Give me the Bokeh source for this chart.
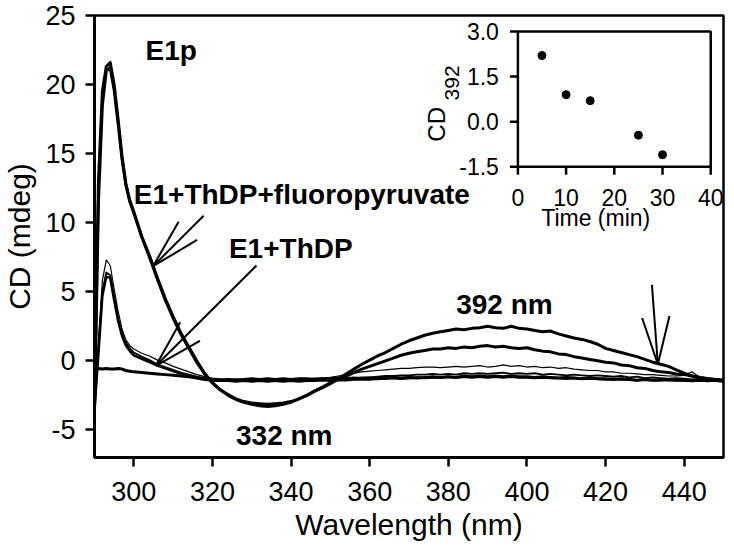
import math
from bokeh.plotting import figure
from bokeh.models import Range1d, FixedTicker
from bokeh.core.properties import value
from bokeh.embed import file_html
from bokeh.resources import INLINE

# ---------------- data ----------------
wavelength = [290, 291, 292, 293, 294, 295, 296, 297, 298, 299,
              300, 302, 304, 306, 308, 310, 312, 314, 316, 318,
              320, 322, 324, 326, 328, 330, 332, 334, 336, 338,
              340, 342, 344, 346, 348, 350, 352, 354, 356, 358,
              360, 362, 364, 366, 368, 370, 372, 374, 376, 378,
              380, 382, 384, 386, 388, 390, 392, 394, 396, 398,
              400, 402, 404, 406, 408, 410, 412, 414, 416, 418,
              420, 422, 424, 426, 428, 430, 432, 434, 436, 438,
              440, 442, 444, 446, 448, 450]

fp_early = [-3.5, 13.0, 19.5, 21.3, 21.6, 20.0, 17.5, 14.8, 12.8, 11.6,
            10.8, 9.0, 7.6, 6.0, 4.5, 3.2, 2.0, 1.0, 0.0, -0.9,
            -1.6, -2.1, -2.5, -2.8, -3.0, -3.15, -3.25, -3.3, -3.25, -3.15,
            -3.0, -2.75, -2.5, -2.2, -1.95, -1.65, -1.3, -0.95, -0.6, -0.25,
            0.05, 0.35, 0.6, 0.9, 1.2, 1.45, 1.65, 1.85, 2.0, 2.1,
            2.2, 2.3, 2.25, 2.35, 2.4, 2.5, 2.4, 2.35, 2.5, 2.35,
            2.3, 2.2, 2.1, 2.15, 1.95, 1.8, 1.65, 1.55, 1.4, 1.2,
            0.9, 0.75, 0.6, 0.45, 0.3, 0.1, -0.1, -0.25, -0.4, -0.65,
            -0.9, -1.1, -1.2, -1.3, -1.35, -1.4]

fp_late = [-3.5, 11.5, 18.5, 21.0, 21.2, 19.6, 17.2, 14.6, 12.7, 11.5,
           10.7, 9.0, 7.5, 5.9, 4.4, 3.1, 1.9, 0.9, -0.1, -0.95,
           -1.6, -2.1, -2.45, -2.75, -2.95, -3.05, -3.1, -3.15, -3.1, -3.05,
           -2.95, -2.75, -2.5, -2.2, -1.9, -1.6, -1.35, -1.1, -0.85, -0.6,
           -0.4, -0.2, 0.0, 0.2, 0.4, 0.55, 0.65, 0.75, 0.85, 0.85,
           0.95, 0.9, 1.0, 0.95, 1.05, 1.1, 1.0, 1.05, 0.95, 0.9,
           0.95, 0.8, 0.7, 0.65, 0.5, 0.45, 0.3, 0.2, 0.1, 0.0,
           -0.1, -0.15, -0.3, -0.35, -0.5, -0.55, -0.7, -0.8, -0.85, -0.95,
           -1.0, -1.1, -1.2, -1.3, -1.35, -1.4]

thdp_a = [-3.5, 1.5, 5.8, 7.3, 6.9, 5.2, 3.6, 2.3, 1.5, 1.1,
          0.85, 0.55, 0.35, 0.05, -0.15, -0.4, -0.6, -0.8, -1.0, -1.15,
          -1.25, -1.3, -1.35, -1.3, -1.35, -1.4, -1.35, -1.3, -1.35, -1.3,
          -1.35, -1.3, -1.3, -1.25, -1.25, -1.2, -1.1, -1.0, -0.9, -0.8,
          -0.75, -0.7, -0.65, -0.6, -0.55, -0.55, -0.5, -0.45, -0.45, -0.5,
          -0.45, -0.4, -0.45, -0.4, -0.35, -0.45, -0.4, -0.3, -0.4, -0.35,
          -0.45, -0.4, -0.5, -0.45, -0.55, -0.5, -0.6, -0.65, -0.7, -0.7,
          -0.8, -0.8, -0.9, -0.9, -0.95, -1.0, -1.0, -1.05, -1.1, -1.1,
          -1.05, -0.8, -1.2, -1.35, -1.4, -1.45]

thdp_b = [-3.5, 0.8, 5.0, 6.4, 6.2, 4.6, 3.1, 2.0, 1.3, 0.9,
          0.6, 0.3, 0.05, -0.25, -0.45, -0.65, -0.85, -1.0, -1.15, -1.25,
          -1.35, -1.4, -1.4, -1.45, -1.4, -1.45, -1.4, -1.4, -1.45, -1.4,
          -1.45, -1.4, -1.4, -1.35, -1.4, -1.3, -1.3, -1.25, -1.25, -1.2,
          -1.2, -1.15, -1.1, -1.1, -1.05, -1.05, -1.0, -1.0, -0.95, -1.0,
          -0.95, -1.0, -0.9, -0.95, -0.9, -0.95, -0.9, -0.85, -0.95, -0.9,
          -0.95, -0.9, -1.0, -0.95, -1.0, -1.05, -1.0, -1.05, -1.1, -1.05,
          -1.1, -1.15, -1.1, -1.2, -1.15, -1.25, -1.2, -1.25, -1.3, -1.25,
          -1.3, -1.35, -1.3, -1.4, -1.4, -1.45]

thdp_c = [-3.5, 0.5, 4.7, 6.1, 6.0, 4.4, 2.9, 1.8, 1.1, 0.7,
          0.4, 0.15, -0.1, -0.35, -0.55, -0.75, -0.95, -1.1, -1.2, -1.3,
          -1.4, -1.45, -1.45, -1.5, -1.45, -1.5, -1.45, -1.5, -1.45, -1.5,
          -1.45, -1.5, -1.45, -1.45, -1.4, -1.45, -1.4, -1.4, -1.35, -1.35,
          -1.35, -1.3, -1.3, -1.25, -1.3, -1.25, -1.2, -1.25, -1.2, -1.2,
          -1.15, -1.2, -1.15, -1.2, -1.15, -1.2, -1.15, -1.2, -1.15, -1.2,
          -1.2, -1.25, -1.2, -1.25, -1.25, -1.3, -1.25, -1.3, -1.3, -1.3,
          -1.35, -1.3, -1.35, -1.35, -1.4, -1.35, -1.4, -1.35, -1.4, -1.4,
          -1.4, -1.45, -1.4, -1.45, -1.45, -1.5]

e1_only = [-0.6, -0.55, -0.6, -0.55, -0.6, -0.6, -0.55, -0.6, -0.7, -0.75,
           -0.8, -0.85, -0.9, -0.95, -1.0, -1.05, -1.1, -1.15, -1.25, -1.35,
           -1.4, -1.4, -1.35, -1.4, -1.35, -1.3, -1.35, -1.3, -1.35, -1.3,
           -1.35, -1.3, -1.3, -1.35, -1.3, -1.3, -1.25, -1.3, -1.25, -1.3,
           -1.25, -1.3, -1.25, -1.2, -1.25, -1.2, -1.25, -1.2, -1.15, -1.2,
           -1.15, -1.2, -1.1, -1.15, -1.1, -1.15, -1.1, -1.15, -1.1, -1.15,
           -1.15, -1.2, -1.15, -1.2, -1.25, -1.2, -1.25, -1.3, -1.25, -1.3,
           -1.3, -1.35, -1.3, -1.35, -1.4, -1.35, -1.4, -1.4, -1.35, -1.4,
           -1.4, -1.45, -1.4, -1.45, -1.4, -1.45]

x_ticks = [300, 320, 340, 360, 380, 400, 420, 440]
y_ticks = [-5, 0, 5, 10, 15, 20, 25]

# inset: CD at 392 nm vs time
time_min = [5, 10, 15, 25, 30]
cd392 = [2.2, 0.9, 0.7, -0.45, -1.1]
inset_xlim = [0, 40]
inset_ylim = [-1.5, 3.0]
inset_xticks = [0, 10, 20, 30, 40]
inset_xlabels = ["0", "10", "20", "30", "40"]
inset_yticks = [-1.5, 0.0, 1.5, 3.0]
inset_ylabels = ["-1.5", "0.0", "1.5", "3.0"]

# annotation labels
label_text = ["E1p", "E1+ThDP+fluoropyruvate", "E1+ThDP", "392 nm", "332 nm"]
label_x = [303.0, 300.0, 324.2, 382.0, 326.0]
label_y = [22.5, 12.05, 8.1, 4.05, -5.4]

# arrows: tip, tail, two head ends
arrow_tip_x = [304.9, 305.6, 433.3]
arrow_tip_y = [6.85, -0.36, -0.25]
arrow_tail_x = [317.75, 331.2, 431.8]
arrow_tail_y = [10.5, 6.9, 5.5]
arrow_h1_x = [311.4, 311.8, 429.3]
arrow_h1_y = [10.07, 2.8, 3.1]
arrow_h2_x = [316.1, 316.8, 436.25]
arrow_h2_y = [8.75, 1.45, 3.25]

for s in (fp_early, fp_late, thdp_a, thdp_b, thdp_c, e1_only):
    assert len(s) == len(wavelength), len(s)

FONT = "Liberation Sans"

# ---------------- figure ----------------
p = figure(width=726, height=549,
           x_range=Range1d(290, 450), y_range=Range1d(-7, 25),
           output_backend="svg", toolbar_location=None,
           min_border_left=91, min_border_right=3,
           min_border_top=15, min_border_bottom=92)
p.background_fill_color = "white"
p.border_fill_color = "white"
p.xgrid.visible = False
p.ygrid.visible = False
p.outline_line_color = "black"
p.outline_line_width = 2.5
p.outline_line_alpha = 1.0

p.xaxis.ticker = FixedTicker(ticks=x_ticks)
p.yaxis.ticker = FixedTicker(ticks=y_ticks)
p.yaxis.major_label_overrides = {t: str(t) for t in y_ticks}
for ax in (p.xaxis[0], p.yaxis[0]):
    ax.axis_line_width = 3
    ax.axis_line_color = "black"
    ax.major_tick_line_width = 2.5
    ax.major_tick_line_color = "black"
    ax.major_tick_out = 9
    ax.major_tick_in = 0
    ax.minor_tick_line_color = None
    ax.major_label_text_font = FONT
    ax.major_label_text_font_size = "27px"
    ax.major_label_text_color = "black"
    ax.axis_label_text_font = FONT
    ax.axis_label_text_font_size = "30px"
    ax.axis_label_text_font_style = "normal"
    ax.axis_label_text_color = "black"
p.xaxis.major_label_standoff = 15
p.yaxis.major_label_standoff = 10
p.xaxis.axis_label = "Wavelength (nm)"
p.xaxis.axis_label_standoff = 4
p.yaxis.axis_label = "CD (mdeg)"
p.yaxis.axis_label_standoff = 6

# spectra
p.line(wavelength, e1_only, line_color="black", line_width=3.0, line_join="round")
p.line(wavelength, thdp_c, line_color="black", line_width=2.5, line_join="round")
p.line(wavelength, thdp_b, line_color="black", line_width=1.8, line_join="round")
p.line(wavelength, thdp_a, line_color="black", line_width=1.2, line_join="round")
p.line(wavelength, fp_late, line_color="black", line_width=3.0, line_join="round")
p.line(wavelength, fp_early, line_color="black", line_width=3.0, line_join="round")

# arrows
p.segment(x0=arrow_tip_x * 3, y0=arrow_tip_y * 3,
          x1=arrow_tail_x + arrow_h1_x + arrow_h2_x,
          y1=arrow_tail_y + arrow_h1_y + arrow_h2_y,
          line_color="black", line_width=2.0)

# labels
p.text(x=label_x, y=label_y, text=label_text, text_font=value(FONT),
       text_font_style="bold", text_font_size="28px", text_color="black",
       text_align="left", text_baseline="middle")

# ---------------- inset ----------------
ins = p.subplot(x_source=Range1d(inset_xlim[0], inset_xlim[1]),
                y_source=Range1d(inset_ylim[0], inset_ylim[1]),
                x_target=Range1d(397.7, 446.75),
                y_target=Range1d(14.05, 23.84))
ins.quad(left=[inset_xlim[0]], right=[inset_xlim[1]],
         bottom=[inset_ylim[0]], top=[inset_ylim[1]],
         fill_color="white", line_color="black", line_width=2.5)
ins.ray(x=inset_xticks, y=[inset_ylim[0]] * len(inset_xticks), length=8,
        length_units="screen", angle=-math.pi / 2,
        line_color="black", line_width=2.5)
ins.ray(x=[inset_xlim[0]] * len(inset_yticks), y=inset_yticks, length=8,
        length_units="screen", angle=math.pi,
        line_color="black", line_width=2.5)
ins.text(x=inset_xticks, y=[inset_ylim[0]] * len(inset_xticks), text=inset_xlabels,
         y_offset=31, text_align="center", text_baseline="middle",
         text_font=value(FONT), text_font_size="23px", text_color="black")
ins.text(x=[inset_xlim[0]] * len(inset_yticks), y=inset_yticks, text=inset_ylabels,
         x_offset=-19, text_align="right", text_baseline="middle",
         text_font=value(FONT), text_font_size="23px", text_color="black")
ins.scatter(time_min, cd392, size=8, color="black")

# inset axis titles (placed in main data space)
p.text(x=[417.5], y=[10.34], text=["Time (min)"], text_font=value(FONT),
       text_font_size="23px", text_color="black",
       text_align="center", text_baseline="middle")
p.text(x=[377.0], y=[17.12], text=["CD"], angle=math.pi / 2, text_font=value(FONT),
       text_font_size="24px", text_color="black",
       text_align="center", text_baseline="middle")
p.text(x=[380.9], y=[20.12], text=["392"], angle=math.pi / 2, text_font=value(FONT),
       text_font_size="21px", text_color="black",
       text_align="center", text_baseline="middle")

open("out.html", "w").write(file_html(p, INLINE))
